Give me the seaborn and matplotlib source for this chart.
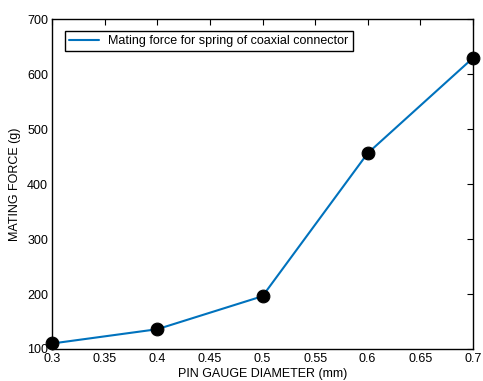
import seaborn as sns
import matplotlib.pyplot as plt

# pin gauge diameter (mm) vs mating force (g)
diameter = [0.3, 0.4, 0.5, 0.6, 0.7]
force = [110, 136, 196, 456, 629]

sns.set_style("white")
plt.rcParams['font.family'] = ['Liberation Sans', 'DejaVu Sans']
plt.rcParams['font.size'] = 9
plt.rcParams['text.color'] = 'black'
plt.rcParams['axes.labelcolor'] = 'black'
plt.rcParams['xtick.color'] = 'black'
plt.rcParams['ytick.color'] = 'black'

fig = plt.figure(figsize=(4.83, 3.81), dpi=100)
ax = fig.add_axes([0.108, 0.084, 0.871, 0.866])

sns.lineplot(x=diameter, y=force, ax=ax, color='#0072BD', linewidth=1.5,
             label='Mating force for spring of coaxial connector')
pts = sns.scatterplot(x=diameter, y=force, ax=ax, color='black', s=85,
                      edgecolor='black', zorder=3, legend=False)
for c in pts.collections:
    c.set_clip_on(False)

ax.set_xlim(0.3, 0.7)
ax.set_ylim(100, 700)
ax.set_xticks([0.3, 0.35, 0.4, 0.45, 0.5, 0.55, 0.6, 0.65, 0.7])
ax.set_xticklabels(['0.3', '0.35', '0.4', '0.45', '0.5', '0.55', '0.6', '0.65', '0.7'])
ax.set_yticks(range(100, 701, 100))
ax.tick_params(direction='in', top=True, right=True, length=4, width=0.8,
               labelsize=9, pad=3, color='black')
for s in ax.spines.values():
    s.set_color('black')
    s.set_linewidth(1.0)

ax.set_xlabel('PIN GAUGE DIAMETER (mm)', fontsize=9, labelpad=2)
ax.set_ylabel('MATING FORCE (g)', fontsize=9, labelpad=4)

leg = ax.legend(loc='upper left', fontsize=9, fancybox=False, framealpha=1,
                edgecolor='black', handlelength=2.4, handletextpad=0.7,
                borderpad=0.35, bbox_to_anchor=(0.03, 0.965),
                borderaxespad=0)
leg.get_frame().set_linewidth(1.0)

fig.savefig('out.png', dpi=100)
